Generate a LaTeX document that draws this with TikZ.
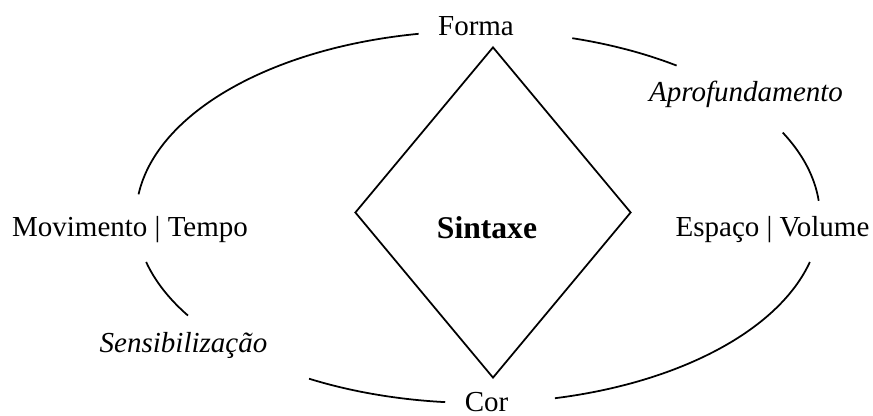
\documentclass[tikz,border=0pt]{standalone}
\usepackage{fontspec}
\setmainfont{Liberation Serif}
\usetikzlibrary{shapes.geometric}

\begin{document}
\begin{tikzpicture}[
  lbl/.style={anchor=base, inner sep=0pt, font=\fontsize{16.5}{20}\selectfont},
  ring/.style={line width=1pt},
  losango/.style={draw, shape=diamond, line width=1pt, inner sep=0pt,
                  minimum width=5.52cm, minimum height=6.62cm}
]
  \useasboundingbox (0,0) rectangle (17.46,8.32);

  % elipse com aberturas
  \coordinate (c) at (9.56,3.98);
  \foreach \s/\e in {100/173, 54.5/74, 5/27, -77/-14, 240.4/264.5, 194/212}
    \draw[ring] (c) ++(\s:6.84 and 3.72)
      arc[start angle=\s, end angle=\e, x radius=6.84, y radius=3.72];

  \node[losango] (sint) at (9.86,4.07) {};
  \node[lbl, font=\fontsize{18}{22}\selectfont\bfseries] (sintaxe) at (9.74,3.54) {Sintaxe};

  \node[lbl] (forma) at (9.52,7.60) {Forma};
  \node[lbl] (mov) at (2.60,3.58) {Movimento | Tempo};
  \node[lbl] (esp) at (15.45,3.58) {Espaço | Volume};
  \node[lbl] (cor) at (9.73,0.08) {Cor};
  \node[lbl, font=\fontsize{16.5}{20}\selectfont\itshape] (aprof) at (14.92,6.28) {Aprofundamento};
  \node[lbl, font=\fontsize{16.5}{20}\selectfont\itshape] (sens) at (3.67,1.26) {Sensibilização};

\end{tikzpicture}
\end{document}
